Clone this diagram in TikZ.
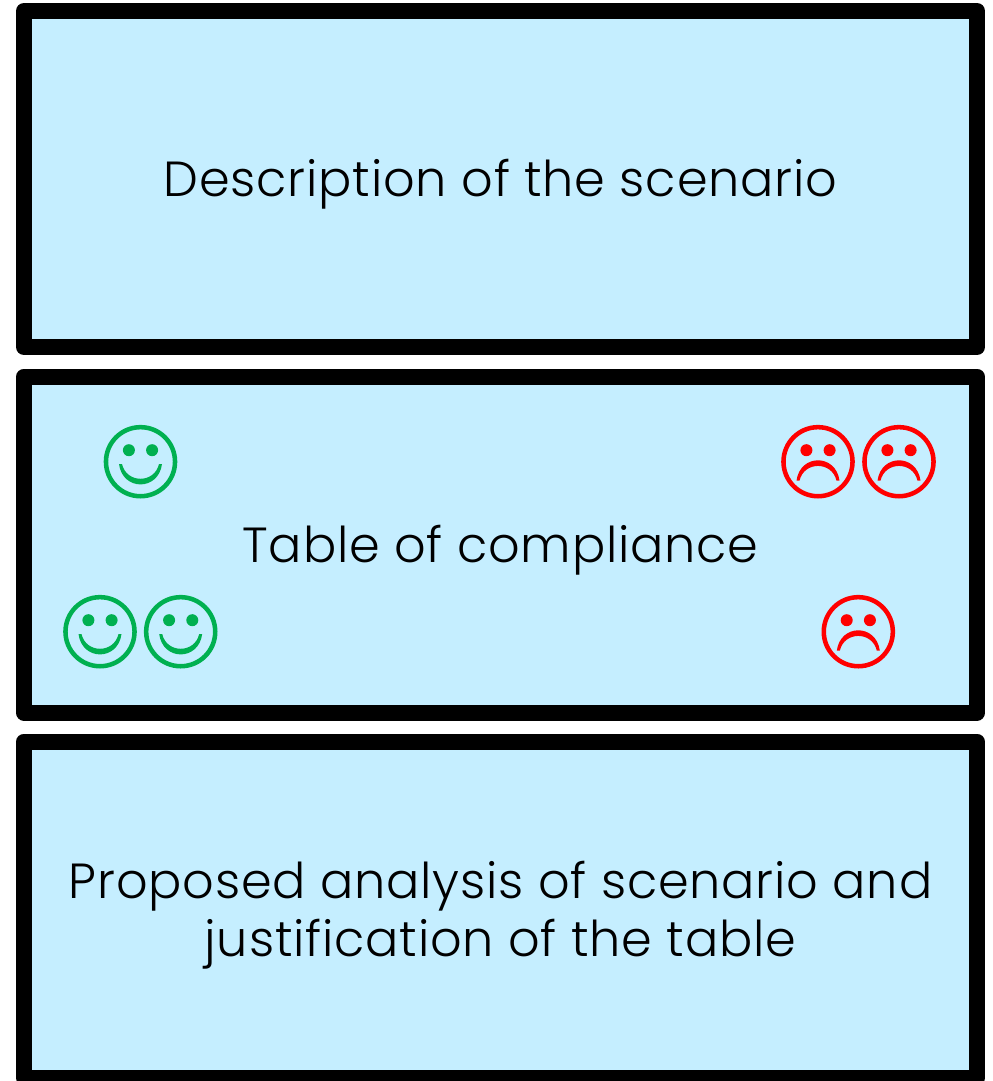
\documentclass[tikz,border=0pt]{standalone}
\usepackage{fontspec}
\usepackage{xcolor}
\setmainfont{Poppins Light}[LetterSpace=1.7]
\definecolor{boxblue}{HTML}{C5EEFF}
\definecolor{facegreen}{HTML}{00B050}
\definecolor{facered}{HTML}{FF0000}
\tikzset{
  panel/.style={draw=black,fill=boxblue,line width=12pt,line join=round,minimum width=714.75pt,minimum height=252pt},
  paneltext/.style={inner sep=0pt,align=center,font=\fontsize{37}{43.5}\selectfont},
  smiley/.pic={
    \path[draw=facegreen,line width=3.4pt] (0,0) circle (25.9pt);
    \path[fill=facegreen] (-11.6,-11.5) circle (4.5pt);
    \path[fill=facegreen] (11.6,-11.5) circle (4.5pt);
    \path[fill=facegreen] (-21.5,2.3) .. controls (-18,29.5) and (18,29.5) .. (21.5,2.3) -- (18.5,2.3) .. controls (14,22) and (-14,22) .. (-18.5,2.3) -- cycle;
  },
  frowny/.pic={
    \path[draw=facered,line width=3.4pt] (0,0) circle (25.9pt);
    \path[fill=facered] (-11.6,-11.5) circle (4.5pt);
    \path[fill=facered] (11.6,-11.5) circle (4.5pt);
    \path[fill=facered] (-21.5,19) .. controls (-18,-8.2) and (18,-8.2) .. (21.5,19) -- (18.5,19) .. controls (14,-0.7) and (-14,-0.7) .. (-18.5,19) -- cycle;
  }
}
\begin{document}
\begin{tikzpicture}[x=0.75pt,y=-0.75pt]
  \useasboundingbox (0,0) rectangle (992,1081);
  \node[panel] (scenario) at (500.5,179) {};
  \node[panel] (compliance) at (500.5,544.5) {};
  \node[panel] (analysis) at (500.5,909.5) {};
  \node[paneltext,yshift=-4pt] (scenariotext) at (scenario) {Description of the scenario};
  \node[paneltext,yshift=-4pt] (compliancetext) at (compliance) {Table of compliance};
  \node[paneltext,yshift=-4pt] (analysistext) at (analysis) {Proposed analysis of scenario and\\justification of the table};

  \pic at (140.5,461.7) {smiley};
  \pic at (100,631.7) {smiley};
  \pic at (180.7,631.7) {smiley};
  \pic at (818,461.7) {frowny};
  \pic at (899,461.7) {frowny};
  \pic at (858.3,631.7) {frowny};
\end{tikzpicture}
\end{document}
